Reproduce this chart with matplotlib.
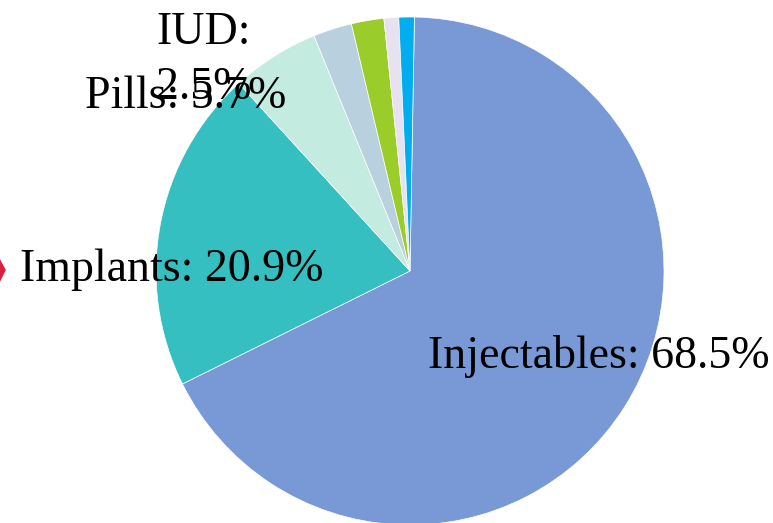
import matplotlib
matplotlib.use("Agg")
import matplotlib.pyplot as plt
from matplotlib.patches import Polygon

categories = ["Injectables", "Implants", "Pills", "IUD", "Other A", "Other B", "Other C"]
values = [68.5, 20.9, 5.7, 2.5, 2.1, 0.95, 1.0]
colors = ["#7898D6", "#36BFC1", "#C4EBDF", "#B9D1DF", "#9ACD2A", "#E8E2F0", "#00AEEF"]
shown_labels = ["Injectables: 68.5%", "Implants: 20.9%", "Pills: 5.7%", "IUD:\n2.5%"]

W, H = 773, 523
fig = plt.figure(figsize=(W / 100, H / 100), dpi=100)
ax = fig.add_axes([0, 0, 1, 1])
cx, cy, R = 410, 271, 254

ax.pie(values, colors=colors, startangle=89, counterclock=False, radius=1,
       wedgeprops=dict(linewidth=0.5, edgecolor="white"))
ax.set_aspect("auto")
ax.set_xlim(-cx / R, (W - cx) / R)
ax.set_ylim(-(H - cy) / R, cy / R)
ax.axis("off")

def px(x, y):
    return (x - cx) / R, (cy - y) / R

font = dict(family="Liberation Serif", fontsize=33, ha="center", va="center", color="black")
positions = [(599, 357), (172, 270), (186, 97), (204, 60)]
spacings = [1.1, 1.1, 1.1, 1.4]
for lab, (x, y), ls in zip(shown_labels, positions, spacings):
    ax.text(*px(x, y), lab, linespacing=ls, **font)

# red decorative shape clipped at left edge
fig.patches.append(Polygon([(-0.02, 1 - 232 / H), (5 / W, 1 - 270 / H), (-0.02, 1 - 312 / H)],
                           closed=True, transform=fig.transFigure, color="#DC1E3C"))

fig.savefig("out.png", dpi=100)
